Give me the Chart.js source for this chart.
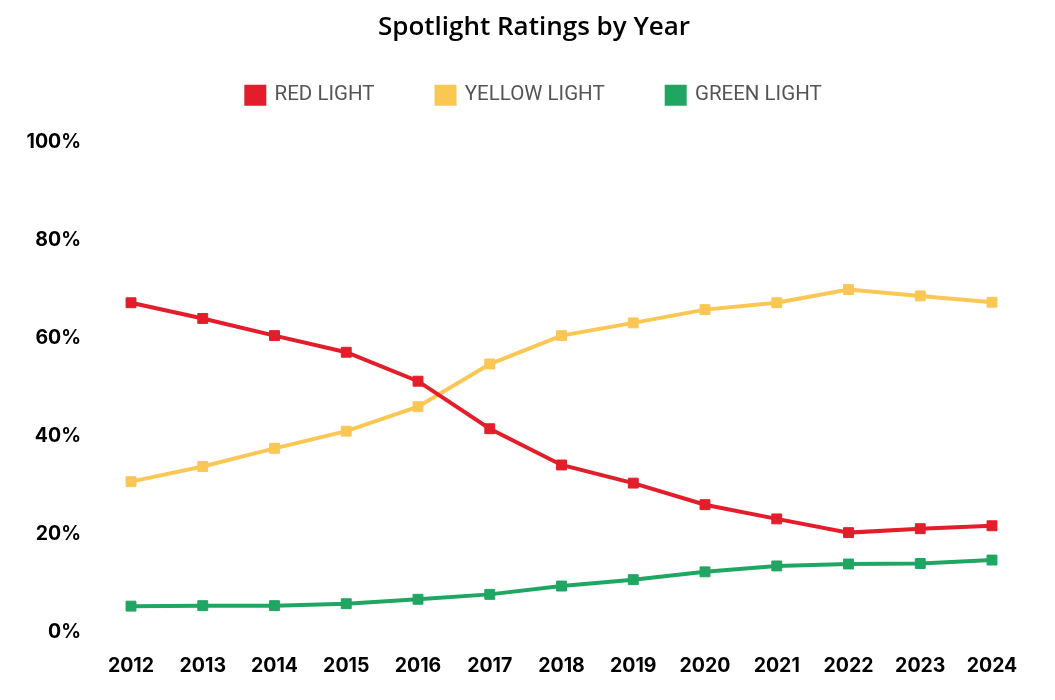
<!DOCTYPE html>
<html>
<head>
<meta charset="utf-8">
<title>Spotlight Ratings by Year</title>
<script src="https://cdn.jsdelivr.net/npm/chart.js@4"></script>
<style>
  html, body { margin: 0; padding: 0; background: #fff; }
  #wrap { width: 1055px; height: 700px; }
</style>
</head>
<body>
<div id="wrap"><canvas id="chart"></canvas></div>
<script>
const years = ['2012', '2013', '2014', '2015', '2016', '2017', '2018', '2019', '2020', '2021', '2022', '2023', '2024']
const redLight = [67.3, 64.1, 60.6, 57.2, 51.3, 41.6, 34.2, 30.5, 26.1, 23.2, 20.4, 21.2, 21.8]
const yellowLight = [30.8, 33.9, 37.6, 41.1, 46.1, 54.8, 60.6, 63.2, 65.9, 67.3, 70.0, 68.7, 67.4]
const greenLight = [5.4, 5.5, 5.5, 5.9, 6.8, 7.8, 9.5, 10.8, 12.4, 13.6, 14.0, 14.1, 14.8]
const yTicks = [0, 20, 40, 60, 80, 100]

const RED = '#e31e2a'
const YELLOW = '#fac755'
const GREEN = '#1fa662'

// espaco extra entre a legenda e o grafico
const legendGap = {
  id: 'legendGap',
  beforeInit(chart) {
    const fitOrig = chart.legend.fit
    chart.legend.fit = function () {
      fitOrig.bind(chart.legend)()
      this.height += 27
    }
  }
}

const serie = (label, data, cor) => ({
  label: label,
  data: data,
  borderColor: cor,
  backgroundColor: cor,
  borderWidth: 4,
  pointStyle: 'rect',
  pointRadius: 7,
  pointBorderWidth: 1,
  pointBackgroundColor: cor,
  pointBorderColor: cor,
  tension: 0
})

Chart.defaults.font.family = 'Inter'

new Chart(document.getElementById('chart'), {
  type: 'line',
  data: {
    labels: years,
    datasets: [
      serie('RED LIGHT', redLight, RED),
      serie('YELLOW LIGHT', yellowLight, YELLOW),
      serie('GREEN LIGHT', greenLight, GREEN)
    ]
  },
  plugins: [legendGap],
  options: {
    responsive: true,
    maintainAspectRatio: false,
    animation: false,
    layout: {
      padding: { left: 13, right: 0, top: 0, bottom: 0 }
    },
    plugins: {
      title: {
        display: true,
        text: 'Spotlight Ratings by Year',
        color: '#000',
        font: { family: 'Open Sans', size: 26, weight: '600', lineHeight: 1 },
        // padding de baixo negativo pra legenda subir (o padding dela e grande)
        padding: { top: 15, bottom: -18 }
      },
      legend: {
        display: true,
        labels: {
          boxWidth: 18,
          boxHeight: 17,
          padding: 62,
          color: '#555',
          font: { family: 'Roboto', size: 20.5, weight: '400' }
        }
      },
      tooltip: { enabled: false }
    },
    scales: {
      x: {
        grid: { display: false, drawTicks: false },
        border: { display: false },
        ticks: {
          color: '#000',
          padding: 22,
          maxRotation: 0,
          font: { size: 19.5, weight: '700' }
        }
      },
      y: {
        min: 0,
        max: 100,
        afterFit(scale) { scale.width = 118 },
        afterBuildTicks(scale) { scale.ticks = yTicks.map(v => ({ value: v })) },
        grid: { display: false, drawTicks: false },
        border: { display: false },
        ticks: {
          color: '#000',
          padding: 50,
          font: { size: 19.5, weight: '700' },
          callback: (v) => v + '%'
        }
      },
      // eixo vazio so pra reservar a margem da direita
      // (com layout.padding o titulo sai do centro)
      yDir: {
        position: 'right',
        display: true,
        min: 0,
        max: 100,
        afterFit(scale) { scale.width = 63 },
        grid: { display: false, drawTicks: false },
        border: { display: false },
        ticks: { display: false }
      }
    }
  }
})
</script>
</body>
</html>
